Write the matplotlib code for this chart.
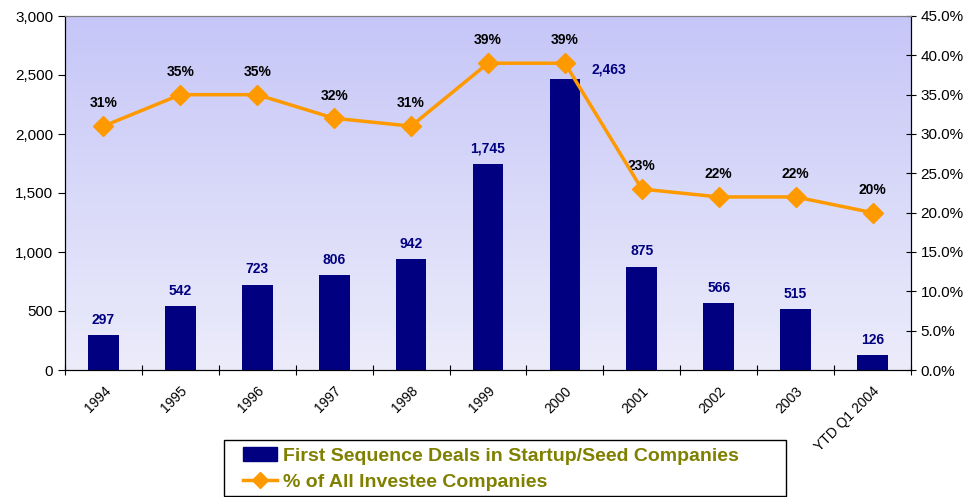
import matplotlib
matplotlib.use("Agg")
import matplotlib.pyplot as plt
import numpy as np
from matplotlib.colors import LinearSegmentedColormap
from matplotlib.patches import Patch, Rectangle
from matplotlib.lines import Line2D

plt.rcParams['font.family'] = ['Liberation Sans', 'DejaVu Sans']

categories = ["1994", "1995", "1996", "1997", "1998", "1999", "2000", "2001", "2002", "2003", "YTD Q1 2004"]
deals = [297, 542, 723, 806, 942, 1745, 2463, 875, 566, 515, 126]
pct = [31, 35, 35, 32, 31, 39, 39, 23, 22, 22, 20]

navy = "#000080"
orange = "#FF9900"
olive = "#808000"

W, H = 969, 497
fig = plt.figure(figsize=(W / 100, H / 100), dpi=100)
ax = fig.add_axes([65 / W, 1 - 370 / H, (911 - 65) / W, (370 - 16) / H])
n = len(categories)
x = np.arange(n)

# gradient background
cmap = LinearSegmentedColormap.from_list("bg", ["#ececfb", "#c6c6f8"])
grad = np.linspace(0, 1, 256).reshape(-1, 1)
ax.imshow(grad, aspect='auto', cmap=cmap, origin='lower',
          extent=[-0.5, n - 0.5, 0, 3000], zorder=0)

ax.bar(x, deals, width=0.4, color=navy, zorder=2)
ax.set_xlim(-0.5, n - 0.5)
ax.set_ylim(0, 3000)
ax.set_yticks(np.arange(0, 3001, 500))
ax.set_yticklabels([f"{v:,}" for v in range(0, 3001, 500)], fontsize=11)
ax.set_xticks(np.arange(-0.5, n, 1))
ax.set_xticklabels([])
ax.set_xticks(x, minor=True)
ax.set_xticklabels(categories, minor=True, rotation=45, ha='right',
                   rotation_mode='anchor', fontsize=10)
ax.tick_params(axis='x', which='minor', length=0, pad=10)
ax.tick_params(axis='x', which='major', length=7, direction='inout')
ax.tick_params(axis='y', length=5, direction='out')
ax.spines['top'].set_color('#808080')
for s in ['left', 'bottom', 'right']:
    ax.spines[s].set_color('black')

for i, v in enumerate(deals):
    if i == 6:
        ax.text(i + 0.35, v + 85, f"{v:,}", color=navy, fontsize=10,
                fontweight='bold', ha='left', va='center', zorder=5)
    else:
        ax.text(i, v + 70, f"{v:,}", color=navy, fontsize=10,
                fontweight='bold', ha='center', va='bottom', zorder=5)

ax2 = ax.twinx()
ax2.plot(x, pct, color=orange, lw=2.5, marker='D', markersize=10, zorder=4)
ax2.set_ylim(0, 45)
ax2.set_yticks(np.arange(0, 45.1, 5))
ax2.set_yticklabels([f"{v:.1f}%" for v in np.arange(0, 45.1, 5)], fontsize=11)
ax2.tick_params(axis='y', length=7, direction='inout')
ax2.spines['top'].set_color('#808080')
for s in ['left', 'bottom', 'right']:
    ax2.spines[s].set_color('black')
for i, v in enumerate(pct):
    ax2.text(i, v + 2.0, f"{v}%", color='black', fontsize=10,
             fontweight='bold', ha='center', va='bottom')

# legend box
fig.patches.append(Rectangle((224 / W, 1 / H), (786 - 224) / W, (57 - 1) / H,
                             transform=fig.transFigure, facecolor='white',
                             edgecolor='black', lw=1.0, zorder=0))
handles = [Patch(facecolor=navy, edgecolor=navy),
           Line2D([0], [0], color=orange, lw=2.5, marker='D', markersize=8)]
labels = ["First Sequence Deals in Startup/Seed Companies", "% of All Investee Companies"]
leg = fig.legend(handles, labels, loc='center left',
                 bbox_to_anchor=(233 / W, 28 / H),
                 frameon=False, prop={'weight': 'bold', 'size': 14},
                 handlelength=1.75, handletextpad=0.3, borderpad=0.0,
                 labelspacing=0.45)
for t in leg.get_texts():
    t.set_color(olive)

fig.savefig("out.png", dpi=100)
